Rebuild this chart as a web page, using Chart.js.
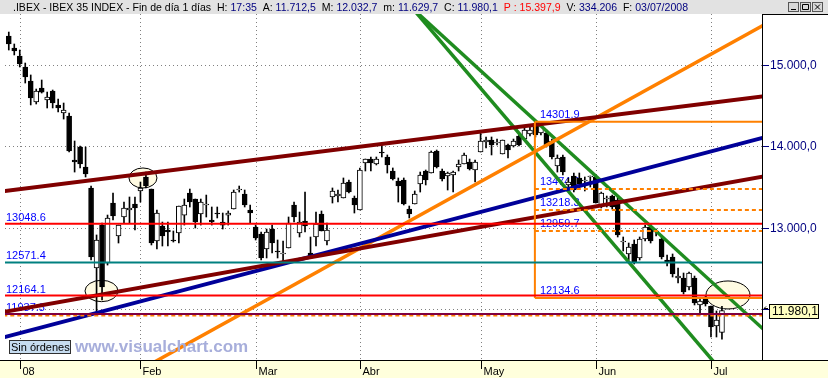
<!DOCTYPE html>
<html>
<head>
<meta charset="utf-8">
<script src="https://cdn.jsdelivr.net/npm/chart.js@4.4.1/dist/chart.umd.min.js"></script>
<style>
  html, body { margin: 0; padding: 0; background: #fff; overflow: hidden; }
  canvas { display: block; }
</style>
</head>
<body>
<canvas id="c" width="828" height="378"></canvas>
<script>
// IBEX 35 daily, one entry per session (index 0 = 28/12/2007, last = 03/07/2008)
const opens = [15357,15210,15111,14976,14804,14545,14718,14570,14681,14509,
  14410,14373,13832,13992,13746,13488,12504,13032,12565,13303,
  12897,13131,13217,13291,13451,13623,13475,12836,13020,12971,
  12848,12934,13155,13426,13352,13168,13279,13094,13180,13069,
  13155,13229,13463,13414,13217,13008,12922,12737,12983,12713,
  12676,12750,13279,12934,13082,12688,12885,13168,12836,13377,
  13389,13365,13561,13365,13217,13795,13844,13783,13930,13869,
  13697,13574,13586,13229,13291,13537,13697,13672,13943,13697,
  13635,13648,13746,13783,13807,13709,13930,14053,14078,14041,
  13906,14017,14004,14127,14090,14152,14275,14164,14164,14066,
  13758,13869,13525,13635,13611,13574,13623,13623,13266,13352,
  13389,13340,12823,12676,12799,12627,12860,13008,12946,12860,
  12602,12639,12381,12381,12270,12381,12049,12122,12036,11790,11712.5];
const highs = [15406,15259,15185,15025,14878,14705,14816,14668,14693,14582,
  14533,14410,14066,14004,13992,13512,12910,13057,13155,13426,
  13032,13315,13377,13377,13561,13684,13475,13217,13069,13069,
  12959,13266,13352,13475,13352,13352,13401,13254,13254,13180,
  13205,13463,13512,13463,13279,13032,12946,12983,13032,12848,
  12836,13131,13315,13192,13438,12885,13192,13205,13057,13488,
  13463,13611,13586,13389,13734,13844,13869,13869,14041,13894,
  13734,13611,13611,13266,13451,13684,13709,13943,13955,13721,
  13684,13697,13832,13918,13844,13832,14176,14115,14115,14090,
  14078,14029,14090,14152,14226,14238,14301.9,14275,14201,14090,
  13894,13894,13611,13672,13672,13623,13635,13648,13438,13389,
  13401,13377,12885,12811,12848,12885,13032,13045,12983,12897,
  12664,12676,12504,12442,12454,12405,12122,12159,12036,11975,12032.7];
const lows = [15185,15124,14976,14779,14509,14521,14656,14472,14472,14422,
  14336,13930,13684,13734,13623,12602,11937.3,12110,12540,13094,
  12811,13057,13057,12971,13315,13488,12787,12737,12774,12774,
  12823,12811,13032,13254,12996,13032,13131,13032,13119,12983,
  13032,13229,13438,13254,13057,12848,12602,12627,12688,12627,
  12565,12750,13069,12885,12946,12639,12774,12959,12787,13303,
  13315,13365,13426,13180,13217,13697,13697,13771,13869,13672,
  13586,13315,13279,13119,13291,13438,13525,13672,13734,13574,
  13463,13438,13697,13783,13709,13561,13930,13980,13894,14017,
  13906,13857,13992,14004,14078,14127,14115,14140,13992,13844,
  13684,13648,13475,13438,13488,13451,13500,13303,13242,13254,
  13229,12885,12713,12602,12553,12602,12836,12811,12897,12615,
  12528,12393,12319,12184,12233,12049,11925,12036,11655,11655,11629.7];
const closes = [15259,15173,15013,14853,14595,14681,14668,14607,14533,14472,
  14447,13943,13807,13783,13660,12639,12848,12270,13119,13143,
  13032,13242,13242,13242,13488,13512,12811,13180,12897,12946,
  12836,13266,13279,13315,13069,13315,13279,13069,13168,13032,
  13180,13438,13463,13279,13180,12873,12627,12946,12811,12700,
  12676,13057,13131,13069,13020,12651,13045,12959,12971,13451,
  13414,13549,13438,13279,13709,13844,13795,13844,13918,13771,
  13598,13512,13291,13168,13414,13648,13586,13930,13746,13598,
  13672,13684,13783,13894,13721,13807,14066,14078,14017,14041,
  14078,13955,14066,14017,14201,14201,14140,14250,14004,13869,
  13857,13684,13561,13463,13537,13574,13623,13303,13426,13352,
  13254,12910,12823,12762,12577,12860,13008,12836,12946,12639,
  12565,12430,12405,12208,12442,12073,12098,12061,11778,11864,11980.1];

// month ticks on the time axis (session index of the first session)
const monthLabels = ['08', 'Feb', 'Mar', 'Abr', 'May', 'Jun', 'Jul'];
const monthIdx = [2, 24, 45, 64, 86, 107, 128];
const priceTicks = [15000, 14000, 13000, 12000];
const lastPrice = 11980.1;

// drawn trend lines: [x1, price1, x2, price2]
const maroonTop = [-1, 13448, 138, 14619];
const maroonLow = [-1, 11962, 138, 13635];
const blueLine = [-1, 11650, 138, 14115];
const orangeLine = [20, 11103, 140, 15581];
const greenUpper = [73, 15733, 140, 11599];
const greenLower = [73, 15745, 132, 11073];

// horizontal levels
const levelValues = [13048.6, 12571.4, 12164.1, 11937.3];
const levelColors = ['#ff0000', '#008080', '#ff0000', '#800040'];
const dashedLevel = 11920;

// retracement drawn from the May high
const fibStart = 95.9;
const fibValues = [14301.9, 13474.0, 13218.3, 12959.7, 12134.6];
const fibDashed = [false, true, true, true, false];

// circled spots: [session index, price, rx, ry]
const ellipses = [[24.46, 13611, 14, 10], [16.9, 12221, 16.5, 10.7], [131.1, 12172, 22, 14]];

const X_MIN = -0.69, X_MAX = 137.3, Y_MIN = 11372, Y_MAX = 15628;

const FONT = '"Liberation Sans", Arial, sans-serif';

function seg(p, color, width, dash) {
  return {
    type: 'line',
    data: [{ x: p[0], y: p[1] }, { x: p[2], y: p[3] }],
    borderColor: color, borderWidth: width, borderDash: dash || [],
    pointRadius: 0, fill: false, tension: 0, order: 0, clip: 0
  };
}

function fmt(v) {
  const s = v.toFixed(1).split('.');
  return s[0].replace(/\B(?=(\d{3})+(?!\d))/g, '.') + ',' + s[1];
}

const idx = opens.map((_, i) => i);
const lineSets = [];
levelValues.forEach((v, k) => lineSets.push(seg([-1, v, 138, v], levelColors[k], 2)));
lineSets.push(seg([-1, dashedLevel, 138, dashedLevel], '#ff8000', 2, [4, 3]));
fibValues.forEach((v, k) => lineSets.push(seg([fibStart, v, 138, v], '#ff8000', 2, fibDashed[k] ? [4, 3] : [])));
lineSets.push(seg([fibStart, fibValues[0], fibStart, fibValues[4]], '#ff8000', 2));
lineSets.push(seg(maroonTop, '#800000', 4));
lineSets.push(seg(maroonLow, '#800000', 4));
lineSets.push(seg(blueLine, '#000099', 4));
lineSets.push(seg(orangeLine, '#ff8000', 3.5));
lineSets.push(seg(greenUpper, '#1f8c1f', 3.5));
lineSets.push(seg(greenLower, '#1f8c1f', 3.5));

const wickSet = {
  type: 'bar', order: 2, grouped: false,
  data: idx.map(i => ({ x: i, y: [lows[i], highs[i]] })),
  backgroundColor: '#000', borderWidth: 0, barThickness: 1
};
const bodySet = {
  type: 'bar', order: 1, grouped: false,
  data: idx.map(i => ({ x: i, y: [opens[i], closes[i]] })),
  backgroundColor: idx.map(i => closes[i] >= opens[i] ? '#ffffff' : '#000000'),
  borderColor: '#000', borderWidth: 1, borderSkipped: false,
  barThickness: 5, minBarLength: 1
};

const frame = {
  id: 'frame',
  beforeDraw(chart) {
    const ctx = chart.ctx;
    ctx.save();
    ctx.fillStyle = '#fff';
    ctx.fillRect(0, 0, chart.width, chart.height);
    ctx.restore();
  },
  beforeDatasetsDraw(chart) {
    const { ctx, chartArea: a, scales: { x, y } } = chart;
    ctx.save();
    // dotted grid
    ctx.strokeStyle = '#808080';
    ctx.lineWidth = 1;
    ctx.setLineDash([1, 3]);
    priceTicks.forEach(v => {
      const py = Math.round(y.getPixelForValue(v)) + 0.5;
      ctx.beginPath(); ctx.moveTo(a.left, py); ctx.lineTo(a.right, py); ctx.stroke();
    });
    monthIdx.forEach(i => {
      const px = Math.round(x.getPixelForValue(i)) + 0.5;
      ctx.beginPath(); ctx.moveTo(px, a.top); ctx.lineTo(px, a.bottom); ctx.stroke();
    });
    ctx.setLineDash([]);
    // ellipses
    ellipses.forEach(e => {
      ctx.beginPath();
      ctx.ellipse(x.getPixelForValue(e[0]), y.getPixelForValue(e[1]), e[2], e[3], 0, 0, Math.PI * 2);
      ctx.fillStyle = '#fffbe2';
      ctx.fill();
      ctx.strokeStyle = '#000';
      ctx.stroke();
    });
    // level labels
    ctx.font = '11px ' + FONT;
    ctx.fillStyle = '#0000ff';
    ctx.textBaseline = 'alphabetic';
    levelValues.forEach(v => ctx.fillText(v.toFixed(1), a.left + 1, y.getPixelForValue(v) - 3));
    fibValues.forEach(v => ctx.fillText(v.toFixed(1), x.getPixelForValue(fibStart) + 5, y.getPixelForValue(v) - 4));
    ctx.restore();
  },
  afterDatasetsDraw(chart) {
    const { ctx, chartArea: a, scales: { x, y } } = chart;
    const W = chart.width, H = chart.height;
    ctx.save();
    // watermark
    ctx.font = 'bold 17px ' + FONT;
    ctx.fillStyle = '#a7aedb';
    ctx.textBaseline = 'alphabetic';
    ctx.fillText('www.visualchart.com', 75, 352);
    // order box
    ctx.fillStyle = '#c6dcf0';
    ctx.fillRect(9, 340, 62, 14);
    ctx.strokeStyle = '#303030';
    ctx.strokeRect(9.5, 340.5, 61, 13);
    ctx.font = '11px ' + FONT;
    ctx.fillStyle = '#000';
    ctx.fillText('Sin órdenes', 11, 351);

    // right price panel
    ctx.fillStyle = '#fff';
    ctx.fillRect(a.right + 1, a.top, W - a.right, a.bottom - a.top);
    ctx.strokeStyle = '#000';
    ctx.beginPath();
    ctx.moveTo(a.right + 0.5, a.top); ctx.lineTo(a.right + 0.5, a.bottom);
    ctx.moveTo(a.right, a.top + 0.5); ctx.lineTo(W, a.top + 0.5);
    ctx.stroke();
    ctx.font = '12px ' + FONT;
    ctx.textBaseline = 'middle';
    priceTicks.forEach(v => {
      const py = Math.round(y.getPixelForValue(v)) + 0.5;
      ctx.strokeStyle = '#000080';
      ctx.beginPath(); ctx.moveTo(a.right + 1, py); ctx.lineTo(a.right + 7, py); ctx.stroke();
      ctx.fillStyle = '#000080';
      ctx.fillText(fmt(v), a.right + 8, py);
    });
    // last price box
    const lp = Math.round(y.getPixelForValue(lastPrice));
    ctx.fillStyle = '#ffffc0';
    ctx.fillRect(a.right + 7, lp - 7, 50, 15);
    ctx.strokeStyle = '#000';
    ctx.strokeRect(a.right + 7.5, lp - 6.5, 49, 14);
    ctx.beginPath();
    ctx.moveTo(a.right + 2, lp - 2.5); ctx.lineTo(a.right + 6, lp - 2.5);
    ctx.moveTo(a.right + 2, lp - 2.5); ctx.lineTo(a.right + 4, lp - 4.5);
    ctx.stroke();
    ctx.fillStyle = '#000';
    ctx.fillText(fmt(lastPrice), a.right + 10, lp + 0.5);

    // time axis band
    ctx.fillStyle = '#ffffdc';
    ctx.fillRect(0, a.bottom, W, H - a.bottom);
    ctx.strokeStyle = '#000';
    ctx.beginPath(); ctx.moveTo(0, a.bottom + 0.5); ctx.lineTo(W, a.bottom + 0.5); ctx.stroke();
    ctx.font = '11px ' + FONT;
    ctx.textBaseline = 'alphabetic';
    ctx.fillStyle = '#000';
    monthIdx.forEach((i, k) => {
      const px = Math.round(x.getPixelForValue(i)) + 0.5;
      ctx.beginPath(); ctx.moveTo(px, a.bottom); ctx.lineTo(px, a.bottom + 9); ctx.stroke();
      ctx.fillText(monthLabels[k], px + 2, H - 3);
    });

    // title bar
    ctx.fillStyle = '#e2e2e2';
    ctx.fillRect(0, 0, W, a.top);
    const pieces = [
      ['.IBEX - IBEX 35 INDEX - Fin de día 1 días  H: ', '#000'], ['17:35', '#000080'],
      ['  A: ', '#000'], ['11.712,5', '#000080'], ['  M: ', '#000'], ['12.032,7', '#000080'],
      ['  m: ', '#000'], ['11.629,7', '#000080'], ['  C: ', '#000'], ['11.980,1', '#000080'],
      ['  P : 15.397,9', '#ff0000'], ['  V: ', '#000'], ['334.206', '#000080'],
      ['  F: ', '#000'], ['03/07/2008', '#000080']
    ];
    ctx.font = '11px ' + FONT;
    const full = ctx.measureText(pieces.map(p => p[0]).join('')).width;
    const sx = 675 / full;
    ctx.translate(13, 0);
    ctx.scale(sx, 1);
    let tx = 0;
    pieces.forEach(p => {
      ctx.fillStyle = p[1];
      ctx.fillText(p[0], tx, 10.5);
      tx += ctx.measureText(p[0]).width;
    });
    ctx.setTransform(1, 0, 0, 1, 0, 0);
    // window buttons
    [788, 800, 812].forEach((bx, k) => {
      ctx.fillStyle = '#d8d8d8';
      ctx.fillRect(bx, 2, 11, 10);
      ctx.strokeStyle = '#555';
      ctx.strokeRect(bx + 0.5, 2.5, 10, 9);
      ctx.strokeStyle = '#000';
      ctx.beginPath();
      if (k === 0) { ctx.moveTo(bx + 3, 9.5); ctx.lineTo(bx + 8, 9.5); }
      if (k === 1) { ctx.rect(bx + 2.5, 4.5, 6, 5); }
      if (k === 2) { ctx.moveTo(bx + 3, 4.5); ctx.lineTo(bx + 8, 9.5); ctx.moveTo(bx + 8, 4.5); ctx.lineTo(bx + 3, 9.5); }
      ctx.stroke();
    });
    ctx.restore();
  }
};

new Chart(document.getElementById('c'), {
  type: 'bar',
  data: { datasets: [...lineSets, bodySet, wickSet] },
  options: {
    responsive: false,
    animation: false,
    events: [],
    layout: { padding: { left: 5, right: 66, top: 14, bottom: 18 } },
    plugins: { legend: { display: false }, tooltip: { enabled: false } },
    scales: {
      x: { type: 'linear', min: X_MIN, max: X_MAX, display: false, offset: false },
      y: { type: 'linear', min: Y_MIN, max: Y_MAX, display: false }
    }
  },
  plugins: [frame]
});
</script>
</body>
</html>
